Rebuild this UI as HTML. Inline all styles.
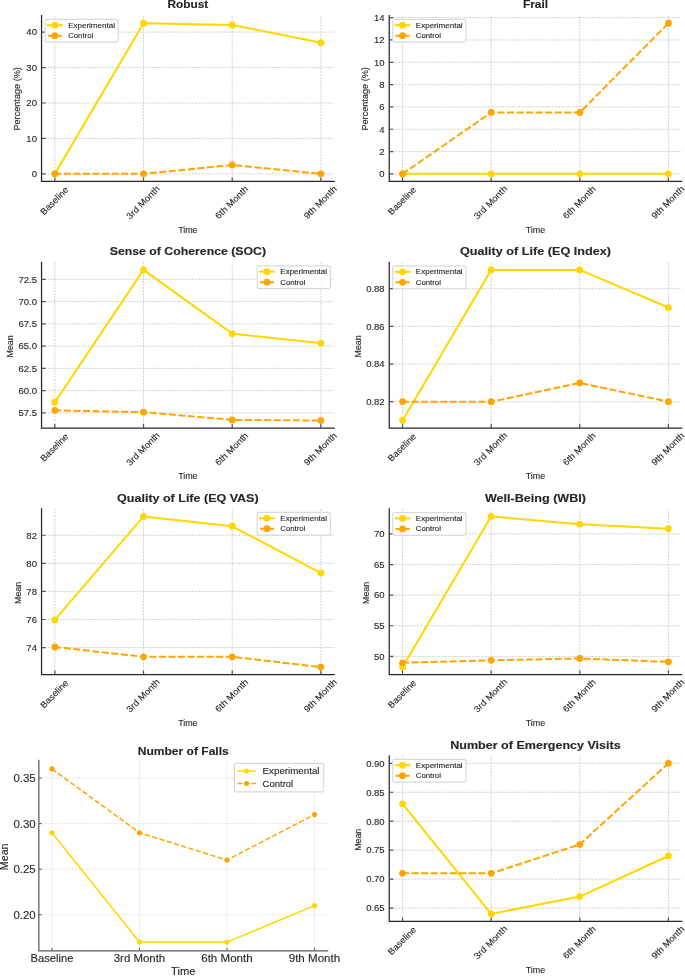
<!DOCTYPE html>
<html><head><meta charset="utf-8"><style>
html,body{margin:0;padding:0;background:#fff;}
body{width:685px;height:976px;overflow:hidden;}
svg{display:block;will-change:transform;}
text{font-family:"Liberation Sans", sans-serif;stroke:#262626;stroke-width:0.12px;}
</style></head><body>
<svg width="685" height="976" viewBox="0 0 685 976" font-family='"Liberation Sans", sans-serif' fill="#262626">
<rect width="685" height="976" fill="#ffffff"/>
<path d="M54.85 15.7V181.4M143.53 15.7V181.4M232.22 15.7V181.4M320.9 15.7V181.4M41.55 173.87H334.2M41.55 138.42H334.2M41.55 102.98H334.2M41.55 67.54H334.2M41.55 32.09H334.2" stroke="#c6c6c6" stroke-width="0.8" stroke-dasharray="2 1.07" fill="none"/>
<polyline points="54.85,173.87 143.53,23.23 232.22,25 320.9,42.73" stroke="#FFD700" stroke-width="2" fill="none" stroke-linejoin="round"/>
<circle cx="54.85" cy="173.87" r="3.4" fill="#FFD700"/>
<circle cx="143.53" cy="23.23" r="3.4" fill="#FFD700"/>
<circle cx="232.22" cy="25" r="3.4" fill="#FFD700"/>
<circle cx="320.9" cy="42.73" r="3.4" fill="#FFD700"/>
<polyline points="54.85,173.87 143.53,173.87 232.22,165.01 320.9,173.87" stroke="#FFA500" stroke-width="2" fill="none" stroke-dasharray="7 2.55" stroke-dashoffset="0.5" stroke-linejoin="round"/>
<circle cx="54.85" cy="173.87" r="3.4" fill="#FFA500"/>
<circle cx="143.53" cy="173.87" r="3.4" fill="#FFA500"/>
<circle cx="232.22" cy="165.01" r="3.4" fill="#FFA500"/>
<circle cx="320.9" cy="173.87" r="3.4" fill="#FFA500"/>
<path d="M41.55 15.7V181.4H334.2" stroke="#262626" stroke-width="1.25" stroke-linecap="square" fill="none"/>
<path d="M54.85 181.4v-4M143.53 181.4v-4M232.22 181.4v-4M320.9 181.4v-4M41.55 173.87h4M41.55 138.42h4M41.55 102.98h4M41.55 67.54h4M41.55 32.09h4" stroke="#505050" stroke-width="1.2" fill="none"/>
<text x="36.95" y="177.17" font-size="9.5" text-anchor="end">0</text>
<text x="36.95" y="141.72" font-size="9.5" text-anchor="end">10</text>
<text x="36.95" y="106.28" font-size="9.5" text-anchor="end">20</text>
<text x="36.95" y="70.84" font-size="9.5" text-anchor="end">30</text>
<text x="36.95" y="35.39" font-size="9.5" text-anchor="end">40</text>
<text x="0" y="3.1" font-size="8.9" text-anchor="middle" textLength="35.5" lengthAdjust="spacingAndGlyphs" transform="translate(54.25 200.7) rotate(-45)">Baseline</text>
<text x="0" y="3.1" font-size="8.9" text-anchor="middle" textLength="43" lengthAdjust="spacingAndGlyphs" transform="translate(142.93 202.3) rotate(-45)">3rd Month</text>
<text x="0" y="3.1" font-size="8.9" text-anchor="middle" textLength="42.3" lengthAdjust="spacingAndGlyphs" transform="translate(231.62 202.3) rotate(-45)">6th Month</text>
<text x="0" y="3.1" font-size="8.9" text-anchor="middle" textLength="42.3" lengthAdjust="spacingAndGlyphs" transform="translate(320.3 202.3) rotate(-45)">9th Month</text>
<text x="187.88" y="232.6" font-size="8.9" text-anchor="middle" textLength="19.4" lengthAdjust="spacingAndGlyphs">Time</text>
<text x="0" y="0" font-size="8.9" text-anchor="middle" textLength="63.4" lengthAdjust="spacingAndGlyphs" transform="translate(20 98.85) rotate(-90)">Percentage (%)</text>
<text x="187.88" y="8.3" font-size="10.6" text-anchor="middle" font-weight="bold" textLength="40.9" lengthAdjust="spacingAndGlyphs">Robust</text>
<rect x="45.05" y="19.4" width="73.2" height="22.7" rx="1.8" fill="#ffffff" fill-opacity="0.8" stroke="#dadada" stroke-width="1.2"/>
<path d="M47.85 25.2h14" stroke="#FFD700" stroke-width="2" stroke-linecap="square" fill="none"/>
<circle cx="54.85" cy="25.2" r="3.4" fill="#FFD700"/>
<text x="68.15" y="27.6" font-size="7.7" textLength="46.8" lengthAdjust="spacingAndGlyphs">Experimental</text>
<path d="M47.85 35.7h14" stroke="#FFA500" stroke-width="2" stroke-dasharray="7.2 2.5" fill="none"/>
<circle cx="54.85" cy="35.7" r="3.4" fill="#FFA500"/>
<text x="68.15" y="38.1" font-size="7.7" textLength="25.1" lengthAdjust="spacingAndGlyphs">Control</text>
<path d="M402.54 15.7V181.4M491.16 15.7V181.4M579.79 15.7V181.4M668.41 15.7V181.4M389.25 173.87H681.7M389.25 151.55H681.7M389.25 129.24H681.7M389.25 106.92H681.7M389.25 84.6H681.7M389.25 62.29H681.7M389.25 39.97H681.7M389.25 17.65H681.7" stroke="#c6c6c6" stroke-width="0.8" stroke-dasharray="2 1.07" fill="none"/>
<polyline points="402.54,173.87 491.16,173.87 579.79,173.87 668.41,173.87" stroke="#FFD700" stroke-width="2" fill="none" stroke-linejoin="round"/>
<circle cx="402.54" cy="173.87" r="3.4" fill="#FFD700"/>
<circle cx="491.16" cy="173.87" r="3.4" fill="#FFD700"/>
<circle cx="579.79" cy="173.87" r="3.4" fill="#FFD700"/>
<circle cx="668.41" cy="173.87" r="3.4" fill="#FFD700"/>
<polyline points="402.54,173.87 491.16,112.5 579.79,112.5 668.41,23.23" stroke="#FFA500" stroke-width="2" fill="none" stroke-dasharray="7 2.55" stroke-dashoffset="0.5" stroke-linejoin="round"/>
<circle cx="402.54" cy="173.87" r="3.4" fill="#FFA500"/>
<circle cx="491.16" cy="112.5" r="3.4" fill="#FFA500"/>
<circle cx="579.79" cy="112.5" r="3.4" fill="#FFA500"/>
<circle cx="668.41" cy="23.23" r="3.4" fill="#FFA500"/>
<path d="M389.25 15.7V181.4H681.7" stroke="#262626" stroke-width="1.25" stroke-linecap="square" fill="none"/>
<path d="M402.54 181.4v-4M491.16 181.4v-4M579.79 181.4v-4M668.41 181.4v-4M389.25 173.87h4M389.25 151.55h4M389.25 129.24h4M389.25 106.92h4M389.25 84.6h4M389.25 62.29h4M389.25 39.97h4M389.25 17.65h4" stroke="#505050" stroke-width="1.2" fill="none"/>
<text x="384.65" y="177.17" font-size="9.5" text-anchor="end">0</text>
<text x="384.65" y="154.85" font-size="9.5" text-anchor="end">2</text>
<text x="384.65" y="132.54" font-size="9.5" text-anchor="end">4</text>
<text x="384.65" y="110.22" font-size="9.5" text-anchor="end">6</text>
<text x="384.65" y="87.9" font-size="9.5" text-anchor="end">8</text>
<text x="384.65" y="65.59" font-size="9.5" text-anchor="end">10</text>
<text x="384.65" y="43.27" font-size="9.5" text-anchor="end">12</text>
<text x="384.65" y="20.95" font-size="9.5" text-anchor="end">14</text>
<text x="0" y="3.1" font-size="8.9" text-anchor="middle" textLength="35.5" lengthAdjust="spacingAndGlyphs" transform="translate(401.94 200.7) rotate(-45)">Baseline</text>
<text x="0" y="3.1" font-size="8.9" text-anchor="middle" textLength="43" lengthAdjust="spacingAndGlyphs" transform="translate(490.56 202.3) rotate(-45)">3rd Month</text>
<text x="0" y="3.1" font-size="8.9" text-anchor="middle" textLength="42.3" lengthAdjust="spacingAndGlyphs" transform="translate(579.19 202.3) rotate(-45)">6th Month</text>
<text x="0" y="3.1" font-size="8.9" text-anchor="middle" textLength="42.3" lengthAdjust="spacingAndGlyphs" transform="translate(667.81 202.3) rotate(-45)">9th Month</text>
<text x="535.48" y="232.6" font-size="8.9" text-anchor="middle" textLength="19.4" lengthAdjust="spacingAndGlyphs">Time</text>
<text x="0" y="0" font-size="8.9" text-anchor="middle" textLength="63.4" lengthAdjust="spacingAndGlyphs" transform="translate(367.5 98.85) rotate(-90)">Percentage (%)</text>
<text x="535.48" y="8.4" font-size="10.6" text-anchor="middle" font-weight="bold" textLength="25.1" lengthAdjust="spacingAndGlyphs">Frail</text>
<rect x="392.75" y="19.4" width="73.2" height="22.7" rx="1.8" fill="#ffffff" fill-opacity="0.8" stroke="#dadada" stroke-width="1.2"/>
<path d="M395.55 25.2h14" stroke="#FFD700" stroke-width="2" stroke-linecap="square" fill="none"/>
<circle cx="402.55" cy="25.2" r="3.4" fill="#FFD700"/>
<text x="415.85" y="27.6" font-size="7.7" textLength="46.8" lengthAdjust="spacingAndGlyphs">Experimental</text>
<path d="M395.55 35.7h14" stroke="#FFA500" stroke-width="2" stroke-dasharray="7.2 2.5" fill="none"/>
<circle cx="402.55" cy="35.7" r="3.4" fill="#FFA500"/>
<text x="415.85" y="38.1" font-size="7.7" textLength="25.1" lengthAdjust="spacingAndGlyphs">Control</text>
<path d="M54.85 262.35V428.05M143.53 262.35V428.05M232.22 262.35V428.05M320.9 262.35V428.05M41.55 412.86H334.2M41.55 390.6H334.2M41.55 368.35H334.2M41.55 346.09H334.2M41.55 323.83H334.2M41.55 301.58H334.2M41.55 279.32H334.2" stroke="#c6c6c6" stroke-width="0.8" stroke-dasharray="2 1.07" fill="none"/>
<polyline points="54.85,402.27 143.53,269.88 232.22,333.63 320.9,343.15" stroke="#FFD700" stroke-width="2" fill="none" stroke-linejoin="round"/>
<circle cx="54.85" cy="402.27" r="3.4" fill="#FFD700"/>
<circle cx="143.53" cy="269.88" r="3.4" fill="#FFD700"/>
<circle cx="232.22" cy="333.63" r="3.4" fill="#FFD700"/>
<circle cx="320.9" cy="343.15" r="3.4" fill="#FFD700"/>
<polyline points="54.85,410.37 143.53,412.15 232.22,419.89 320.9,420.52" stroke="#FFA500" stroke-width="2" fill="none" stroke-dasharray="7 2.55" stroke-dashoffset="0.5" stroke-linejoin="round"/>
<circle cx="54.85" cy="410.37" r="3.4" fill="#FFA500"/>
<circle cx="143.53" cy="412.15" r="3.4" fill="#FFA500"/>
<circle cx="232.22" cy="419.89" r="3.4" fill="#FFA500"/>
<circle cx="320.9" cy="420.52" r="3.4" fill="#FFA500"/>
<path d="M41.55 262.35V428.05H334.2" stroke="#262626" stroke-width="1.25" stroke-linecap="square" fill="none"/>
<path d="M54.85 428.05v-4M143.53 428.05v-4M232.22 428.05v-4M320.9 428.05v-4M41.55 412.86h4M41.55 390.6h4M41.55 368.35h4M41.55 346.09h4M41.55 323.83h4M41.55 301.58h4M41.55 279.32h4" stroke="#505050" stroke-width="1.2" fill="none"/>
<text x="36.95" y="416.16" font-size="9.5" text-anchor="end">57.5</text>
<text x="36.95" y="393.9" font-size="9.5" text-anchor="end">60.0</text>
<text x="36.95" y="371.65" font-size="9.5" text-anchor="end">62.5</text>
<text x="36.95" y="349.39" font-size="9.5" text-anchor="end">65.0</text>
<text x="36.95" y="327.13" font-size="9.5" text-anchor="end">67.5</text>
<text x="36.95" y="304.88" font-size="9.5" text-anchor="end">70.0</text>
<text x="36.95" y="282.62" font-size="9.5" text-anchor="end">72.5</text>
<text x="0" y="3.1" font-size="8.9" text-anchor="middle" textLength="35.5" lengthAdjust="spacingAndGlyphs" transform="translate(54.25 447.35) rotate(-45)">Baseline</text>
<text x="0" y="3.1" font-size="8.9" text-anchor="middle" textLength="43" lengthAdjust="spacingAndGlyphs" transform="translate(142.93 448.95) rotate(-45)">3rd Month</text>
<text x="0" y="3.1" font-size="8.9" text-anchor="middle" textLength="42.3" lengthAdjust="spacingAndGlyphs" transform="translate(231.62 448.95) rotate(-45)">6th Month</text>
<text x="0" y="3.1" font-size="8.9" text-anchor="middle" textLength="42.3" lengthAdjust="spacingAndGlyphs" transform="translate(320.3 448.95) rotate(-45)">9th Month</text>
<text x="187.88" y="479.25" font-size="8.9" text-anchor="middle" textLength="19.4" lengthAdjust="spacingAndGlyphs">Time</text>
<text x="0" y="0" font-size="8.9" text-anchor="middle" textLength="22" lengthAdjust="spacingAndGlyphs" transform="translate(13.2 346.4) rotate(-90)">Mean</text>
<text x="187.88" y="254.85" font-size="10.6" text-anchor="middle" font-weight="bold" textLength="156.3" lengthAdjust="spacingAndGlyphs">Sense of Coherence (SOC)</text>
<rect x="257.2" y="265.85" width="73.2" height="22.7" rx="1.8" fill="#ffffff" fill-opacity="0.8" stroke="#dadada" stroke-width="1.2"/>
<path d="M260 271.65h14" stroke="#FFD700" stroke-width="2" stroke-linecap="square" fill="none"/>
<circle cx="267" cy="271.65" r="3.4" fill="#FFD700"/>
<text x="280.3" y="274.05" font-size="7.7" textLength="46.8" lengthAdjust="spacingAndGlyphs">Experimental</text>
<path d="M260 282.15h14" stroke="#FFA500" stroke-width="2" stroke-dasharray="7.2 2.5" fill="none"/>
<circle cx="267" cy="282.15" r="3.4" fill="#FFA500"/>
<text x="280.3" y="284.55" font-size="7.7" textLength="25.1" lengthAdjust="spacingAndGlyphs">Control</text>
<path d="M402.54 262.35V428.05M491.16 262.35V428.05M579.79 262.35V428.05M668.41 262.35V428.05M389.25 401.69H681.7M389.25 364.03H681.7M389.25 326.37H681.7M389.25 288.71H681.7" stroke="#c6c6c6" stroke-width="0.8" stroke-dasharray="2 1.07" fill="none"/>
<polyline points="402.54,420.52 491.16,269.88 579.79,269.88 668.41,307.54" stroke="#FFD700" stroke-width="2" fill="none" stroke-linejoin="round"/>
<circle cx="402.54" cy="420.52" r="3.4" fill="#FFD700"/>
<circle cx="491.16" cy="269.88" r="3.4" fill="#FFD700"/>
<circle cx="579.79" cy="269.88" r="3.4" fill="#FFD700"/>
<circle cx="668.41" cy="307.54" r="3.4" fill="#FFD700"/>
<polyline points="402.54,401.69 491.16,401.69 579.79,382.86 668.41,401.69" stroke="#FFA500" stroke-width="2" fill="none" stroke-dasharray="7 2.55" stroke-dashoffset="0.5" stroke-linejoin="round"/>
<circle cx="402.54" cy="401.69" r="3.4" fill="#FFA500"/>
<circle cx="491.16" cy="401.69" r="3.4" fill="#FFA500"/>
<circle cx="579.79" cy="382.86" r="3.4" fill="#FFA500"/>
<circle cx="668.41" cy="401.69" r="3.4" fill="#FFA500"/>
<path d="M389.25 262.35V428.05H681.7" stroke="#262626" stroke-width="1.25" stroke-linecap="square" fill="none"/>
<path d="M402.54 428.05v-4M491.16 428.05v-4M579.79 428.05v-4M668.41 428.05v-4M389.25 401.69h4M389.25 364.03h4M389.25 326.37h4M389.25 288.71h4" stroke="#505050" stroke-width="1.2" fill="none"/>
<text x="384.65" y="404.99" font-size="9.5" text-anchor="end">0.82</text>
<text x="384.65" y="367.33" font-size="9.5" text-anchor="end">0.84</text>
<text x="384.65" y="329.67" font-size="9.5" text-anchor="end">0.86</text>
<text x="384.65" y="292.01" font-size="9.5" text-anchor="end">0.88</text>
<text x="0" y="3.1" font-size="8.9" text-anchor="middle" textLength="35.5" lengthAdjust="spacingAndGlyphs" transform="translate(401.94 447.35) rotate(-45)">Baseline</text>
<text x="0" y="3.1" font-size="8.9" text-anchor="middle" textLength="43" lengthAdjust="spacingAndGlyphs" transform="translate(490.56 448.95) rotate(-45)">3rd Month</text>
<text x="0" y="3.1" font-size="8.9" text-anchor="middle" textLength="42.3" lengthAdjust="spacingAndGlyphs" transform="translate(579.19 448.95) rotate(-45)">6th Month</text>
<text x="0" y="3.1" font-size="8.9" text-anchor="middle" textLength="42.3" lengthAdjust="spacingAndGlyphs" transform="translate(667.81 448.95) rotate(-45)">9th Month</text>
<text x="535.48" y="479.25" font-size="8.9" text-anchor="middle" textLength="19.4" lengthAdjust="spacingAndGlyphs">Time</text>
<text x="0" y="0" font-size="8.9" text-anchor="middle" textLength="22" lengthAdjust="spacingAndGlyphs" transform="translate(360.8 346.4) rotate(-90)">Mean</text>
<text x="535.48" y="254.9" font-size="10.6" text-anchor="middle" font-weight="bold" textLength="150.9" lengthAdjust="spacingAndGlyphs">Quality of Life (EQ Index)</text>
<rect x="392.75" y="266.05" width="73.2" height="22.7" rx="1.8" fill="#ffffff" fill-opacity="0.8" stroke="#dadada" stroke-width="1.2"/>
<path d="M395.55 271.85h14" stroke="#FFD700" stroke-width="2" stroke-linecap="square" fill="none"/>
<circle cx="402.55" cy="271.85" r="3.4" fill="#FFD700"/>
<text x="415.85" y="274.25" font-size="7.7" textLength="46.8" lengthAdjust="spacingAndGlyphs">Experimental</text>
<path d="M395.55 282.35h14" stroke="#FFA500" stroke-width="2" stroke-dasharray="7.2 2.5" fill="none"/>
<circle cx="402.55" cy="282.35" r="3.4" fill="#FFA500"/>
<text x="415.85" y="284.75" font-size="7.7" textLength="25.1" lengthAdjust="spacingAndGlyphs">Control</text>
<path d="M54.85 508.9V674.6M143.53 508.9V674.6M232.22 508.9V674.6M320.9 508.9V674.6M41.55 647.55H334.2M41.55 619.48H334.2M41.55 591.4H334.2M41.55 563.32H334.2M41.55 535.24H334.2" stroke="#c6c6c6" stroke-width="0.8" stroke-dasharray="2 1.07" fill="none"/>
<polyline points="54.85,619.9 143.53,516.43 232.22,526.26 320.9,573.01" stroke="#FFD700" stroke-width="2" fill="none" stroke-linejoin="round"/>
<circle cx="54.85" cy="619.9" r="3.4" fill="#FFD700"/>
<circle cx="143.53" cy="516.43" r="3.4" fill="#FFD700"/>
<circle cx="232.22" cy="526.26" r="3.4" fill="#FFD700"/>
<circle cx="320.9" cy="573.01" r="3.4" fill="#FFD700"/>
<polyline points="54.85,646.99 143.53,656.82 232.22,656.82 320.9,667.07" stroke="#FFA500" stroke-width="2" fill="none" stroke-dasharray="7 2.55" stroke-dashoffset="0.5" stroke-linejoin="round"/>
<circle cx="54.85" cy="646.99" r="3.4" fill="#FFA500"/>
<circle cx="143.53" cy="656.82" r="3.4" fill="#FFA500"/>
<circle cx="232.22" cy="656.82" r="3.4" fill="#FFA500"/>
<circle cx="320.9" cy="667.07" r="3.4" fill="#FFA500"/>
<path d="M41.55 508.9V674.6H334.2" stroke="#262626" stroke-width="1.25" stroke-linecap="square" fill="none"/>
<path d="M54.85 674.6v-4M143.53 674.6v-4M232.22 674.6v-4M320.9 674.6v-4M41.55 647.55h4M41.55 619.48h4M41.55 591.4h4M41.55 563.32h4M41.55 535.24h4" stroke="#505050" stroke-width="1.2" fill="none"/>
<text x="36.95" y="650.85" font-size="9.5" text-anchor="end">74</text>
<text x="36.95" y="622.78" font-size="9.5" text-anchor="end">76</text>
<text x="36.95" y="594.7" font-size="9.5" text-anchor="end">78</text>
<text x="36.95" y="566.62" font-size="9.5" text-anchor="end">80</text>
<text x="36.95" y="538.54" font-size="9.5" text-anchor="end">82</text>
<text x="0" y="3.1" font-size="8.9" text-anchor="middle" textLength="35.5" lengthAdjust="spacingAndGlyphs" transform="translate(54.25 693.9) rotate(-45)">Baseline</text>
<text x="0" y="3.1" font-size="8.9" text-anchor="middle" textLength="43" lengthAdjust="spacingAndGlyphs" transform="translate(142.93 695.5) rotate(-45)">3rd Month</text>
<text x="0" y="3.1" font-size="8.9" text-anchor="middle" textLength="42.3" lengthAdjust="spacingAndGlyphs" transform="translate(231.62 695.5) rotate(-45)">6th Month</text>
<text x="0" y="3.1" font-size="8.9" text-anchor="middle" textLength="42.3" lengthAdjust="spacingAndGlyphs" transform="translate(320.3 695.5) rotate(-45)">9th Month</text>
<text x="187.88" y="725.8" font-size="8.9" text-anchor="middle" textLength="19.4" lengthAdjust="spacingAndGlyphs">Time</text>
<text x="0" y="0" font-size="8.9" text-anchor="middle" textLength="22" lengthAdjust="spacingAndGlyphs" transform="translate(20.9 592.95) rotate(-90)">Mean</text>
<text x="187.88" y="502.3" font-size="10.6" text-anchor="middle" font-weight="bold" textLength="141.5" lengthAdjust="spacingAndGlyphs">Quality of Life (EQ VAS)</text>
<rect x="257.2" y="512.4" width="73.2" height="22.7" rx="1.8" fill="#ffffff" fill-opacity="0.8" stroke="#dadada" stroke-width="1.2"/>
<path d="M260 518.2h14" stroke="#FFD700" stroke-width="2" stroke-linecap="square" fill="none"/>
<circle cx="267" cy="518.2" r="3.4" fill="#FFD700"/>
<text x="280.3" y="520.6" font-size="7.7" textLength="46.8" lengthAdjust="spacingAndGlyphs">Experimental</text>
<path d="M260 528.7h14" stroke="#FFA500" stroke-width="2" stroke-dasharray="7.2 2.5" fill="none"/>
<circle cx="267" cy="528.7" r="3.4" fill="#FFA500"/>
<text x="280.3" y="531.1" font-size="7.7" textLength="25.1" lengthAdjust="spacingAndGlyphs">Control</text>
<path d="M402.54 508.9V674.6M491.16 508.9V674.6M579.79 508.9V674.6M668.41 508.9V674.6M389.25 656.36H681.7M389.25 625.75H681.7M389.25 595.15H681.7M389.25 564.54H681.7M389.25 533.94H681.7" stroke="#c6c6c6" stroke-width="0.8" stroke-dasharray="2 1.07" fill="none"/>
<polyline points="402.54,667.07 491.16,516.43 579.79,524.14 668.41,528.73" stroke="#FFD700" stroke-width="2" fill="none" stroke-linejoin="round"/>
<circle cx="402.54" cy="667.07" r="3.4" fill="#FFD700"/>
<circle cx="491.16" cy="516.43" r="3.4" fill="#FFD700"/>
<circle cx="579.79" cy="524.14" r="3.4" fill="#FFD700"/>
<circle cx="668.41" cy="528.73" r="3.4" fill="#FFD700"/>
<polyline points="402.54,662.78 491.16,660.34 579.79,658.5 668.41,661.87" stroke="#FFA500" stroke-width="2" fill="none" stroke-dasharray="7 2.55" stroke-dashoffset="0.5" stroke-linejoin="round"/>
<circle cx="402.54" cy="662.78" r="3.4" fill="#FFA500"/>
<circle cx="491.16" cy="660.34" r="3.4" fill="#FFA500"/>
<circle cx="579.79" cy="658.5" r="3.4" fill="#FFA500"/>
<circle cx="668.41" cy="661.87" r="3.4" fill="#FFA500"/>
<path d="M389.25 508.9V674.6H681.7" stroke="#262626" stroke-width="1.25" stroke-linecap="square" fill="none"/>
<path d="M402.54 674.6v-4M491.16 674.6v-4M579.79 674.6v-4M668.41 674.6v-4M389.25 656.36h4M389.25 625.75h4M389.25 595.15h4M389.25 564.54h4M389.25 533.94h4" stroke="#505050" stroke-width="1.2" fill="none"/>
<text x="384.65" y="659.66" font-size="9.5" text-anchor="end">50</text>
<text x="384.65" y="629.05" font-size="9.5" text-anchor="end">55</text>
<text x="384.65" y="598.45" font-size="9.5" text-anchor="end">60</text>
<text x="384.65" y="567.84" font-size="9.5" text-anchor="end">65</text>
<text x="384.65" y="537.24" font-size="9.5" text-anchor="end">70</text>
<text x="0" y="3.1" font-size="8.9" text-anchor="middle" textLength="35.5" lengthAdjust="spacingAndGlyphs" transform="translate(401.94 693.9) rotate(-45)">Baseline</text>
<text x="0" y="3.1" font-size="8.9" text-anchor="middle" textLength="43" lengthAdjust="spacingAndGlyphs" transform="translate(490.56 695.5) rotate(-45)">3rd Month</text>
<text x="0" y="3.1" font-size="8.9" text-anchor="middle" textLength="42.3" lengthAdjust="spacingAndGlyphs" transform="translate(579.19 695.5) rotate(-45)">6th Month</text>
<text x="0" y="3.1" font-size="8.9" text-anchor="middle" textLength="42.3" lengthAdjust="spacingAndGlyphs" transform="translate(667.81 695.5) rotate(-45)">9th Month</text>
<text x="535.48" y="725.8" font-size="8.9" text-anchor="middle" textLength="19.4" lengthAdjust="spacingAndGlyphs">Time</text>
<text x="0" y="0" font-size="8.9" text-anchor="middle" textLength="22" lengthAdjust="spacingAndGlyphs" transform="translate(368.5 592.95) rotate(-90)">Mean</text>
<text x="535.48" y="502.2" font-size="10.6" text-anchor="middle" font-weight="bold" textLength="101" lengthAdjust="spacingAndGlyphs">Well-Being (WBI)</text>
<rect x="392.75" y="512.6" width="73.2" height="22.7" rx="1.8" fill="#ffffff" fill-opacity="0.8" stroke="#dadada" stroke-width="1.2"/>
<path d="M395.55 518.4h14" stroke="#FFD700" stroke-width="2" stroke-linecap="square" fill="none"/>
<circle cx="402.55" cy="518.4" r="3.4" fill="#FFD700"/>
<text x="415.85" y="520.8" font-size="7.7" textLength="46.8" lengthAdjust="spacingAndGlyphs">Experimental</text>
<path d="M395.55 528.9h14" stroke="#FFA500" stroke-width="2" stroke-dasharray="7.2 2.5" fill="none"/>
<circle cx="402.55" cy="528.9" r="3.4" fill="#FFA500"/>
<text x="415.85" y="531.3" font-size="7.7" textLength="25.1" lengthAdjust="spacingAndGlyphs">Control</text>
<path d="M51.98 760.3V950.75M139.47 760.3V950.75M226.97 760.3V950.75M314.48 760.3V950.75M38.85 914.76H327.6M38.85 869.19H327.6M38.85 823.63H327.6M38.85 778.07H327.6" stroke="#d2d2d2" stroke-width="0.8" stroke-dasharray="1 1.1" fill="none"/>
<polyline points="51.98,832.74 139.47,942.09 226.97,942.09 314.48,905.64" stroke="#FFD700" stroke-width="1.5" fill="none" stroke-linejoin="round"/>
<circle cx="51.98" cy="832.74" r="2.6" fill="#FFD700"/>
<circle cx="139.47" cy="942.09" r="2.6" fill="#FFD700"/>
<circle cx="226.97" cy="942.09" r="2.6" fill="#FFD700"/>
<circle cx="314.48" cy="905.64" r="2.6" fill="#FFD700"/>
<polyline points="51.98,768.96 139.47,832.74 226.97,860.08 314.48,814.52" stroke="#FFA500" stroke-width="1.5" fill="none" stroke-dasharray="5.3 2.3" stroke-linejoin="round"/>
<circle cx="51.98" cy="768.96" r="2.6" fill="#FFA500"/>
<circle cx="139.47" cy="832.74" r="2.6" fill="#FFA500"/>
<circle cx="226.97" cy="860.08" r="2.6" fill="#FFA500"/>
<circle cx="314.48" cy="814.52" r="2.6" fill="#FFA500"/>
<path d="M38.85 760.3V950.75H327.6" stroke="#5a5a5a" stroke-width="1.25" stroke-linecap="square" fill="none"/>
<path d="M51.98 950.75v-3M139.47 950.75v-3M226.97 950.75v-3M314.48 950.75v-3M38.85 914.76h3M38.85 869.19h3M38.85 823.63h3M38.85 778.07h3" stroke="#5e5e5e" stroke-width="1" fill="none"/>
<text x="35.75" y="918.66" font-size="11.3" text-anchor="end" textLength="22.3" lengthAdjust="spacingAndGlyphs">0.20</text>
<text x="35.75" y="873.09" font-size="11.3" text-anchor="end" textLength="22.3" lengthAdjust="spacingAndGlyphs">0.25</text>
<text x="35.75" y="827.53" font-size="11.3" text-anchor="end" textLength="22.3" lengthAdjust="spacingAndGlyphs">0.30</text>
<text x="35.75" y="781.97" font-size="11.3" text-anchor="end" textLength="22.3" lengthAdjust="spacingAndGlyphs">0.35</text>
<text x="51.98" y="961.9" font-size="10.6" text-anchor="middle" textLength="42.7" lengthAdjust="spacingAndGlyphs">Baseline</text>
<text x="139.47" y="961.9" font-size="10.6" text-anchor="middle" textLength="51.5" lengthAdjust="spacingAndGlyphs">3rd Month</text>
<text x="226.97" y="961.9" font-size="10.6" text-anchor="middle" textLength="51.5" lengthAdjust="spacingAndGlyphs">6th Month</text>
<text x="314.48" y="961.9" font-size="10.6" text-anchor="middle" textLength="51.5" lengthAdjust="spacingAndGlyphs">9th Month</text>
<text x="183.23" y="975.2" font-size="10.6" text-anchor="middle" textLength="24.3" lengthAdjust="spacingAndGlyphs">Time</text>
<text x="0" y="0" font-size="10.6" text-anchor="middle" textLength="26.7" lengthAdjust="spacingAndGlyphs" transform="translate(8.3 856.82) rotate(-90)">Mean</text>
<text x="183.23" y="754.6" font-size="11.2" text-anchor="middle" font-weight="bold" textLength="91.1" lengthAdjust="spacingAndGlyphs">Number of Falls</text>
<rect x="234.4" y="763.4" width="89.3" height="28.5" rx="2" fill="#ffffff" fill-opacity="0.8" stroke="#d8d8d8" stroke-width="1.1"/>
<path d="M237.5 771h18.4" stroke="#FFD700" stroke-width="1.5" fill="none"/>
<circle cx="246.6" cy="771" r="2.5" fill="#FFD700"/>
<text x="262.6" y="773.9" font-size="9.6" textLength="56.9" lengthAdjust="spacingAndGlyphs">Experimental</text>
<path d="M237.8 783.6h18.2" stroke="#FFA500" stroke-width="1.5" stroke-dasharray="4.7 2.2" fill="none"/>
<circle cx="246.6" cy="783.6" r="2.5" fill="#FFA500"/>
<text x="262.6" y="786.5" font-size="9.6" textLength="30.6" lengthAdjust="spacingAndGlyphs">Control</text>
<path d="M402.54 755.75V921.45M491.16 755.75V921.45M579.79 755.75V921.45M668.41 755.75V921.45M389.25 908.12H681.7M389.25 879.16H681.7M389.25 850.19H681.7M389.25 821.22H681.7M389.25 792.25H681.7M389.25 763.28H681.7" stroke="#c6c6c6" stroke-width="0.8" stroke-dasharray="2 1.07" fill="none"/>
<polyline points="402.54,803.84 491.16,913.92 579.79,896.54 668.41,855.98" stroke="#FFD700" stroke-width="2" fill="none" stroke-linejoin="round"/>
<circle cx="402.54" cy="803.84" r="3.4" fill="#FFD700"/>
<circle cx="491.16" cy="913.92" r="3.4" fill="#FFD700"/>
<circle cx="579.79" cy="896.54" r="3.4" fill="#FFD700"/>
<circle cx="668.41" cy="855.98" r="3.4" fill="#FFD700"/>
<polyline points="402.54,873.36 491.16,873.36 579.79,844.39 668.41,763.28" stroke="#FFA500" stroke-width="2" fill="none" stroke-dasharray="7 2.55" stroke-dashoffset="0.5" stroke-linejoin="round"/>
<circle cx="402.54" cy="873.36" r="3.4" fill="#FFA500"/>
<circle cx="491.16" cy="873.36" r="3.4" fill="#FFA500"/>
<circle cx="579.79" cy="844.39" r="3.4" fill="#FFA500"/>
<circle cx="668.41" cy="763.28" r="3.4" fill="#FFA500"/>
<path d="M389.25 755.75V921.45H681.7" stroke="#262626" stroke-width="1.25" stroke-linecap="square" fill="none"/>
<path d="M402.54 921.45v-4M491.16 921.45v-4M579.79 921.45v-4M668.41 921.45v-4M389.25 908.12h4M389.25 879.16h4M389.25 850.19h4M389.25 821.22h4M389.25 792.25h4M389.25 763.28h4" stroke="#505050" stroke-width="1.2" fill="none"/>
<text x="384.65" y="911.42" font-size="9.5" text-anchor="end">0.65</text>
<text x="384.65" y="882.46" font-size="9.5" text-anchor="end">0.70</text>
<text x="384.65" y="853.49" font-size="9.5" text-anchor="end">0.75</text>
<text x="384.65" y="824.52" font-size="9.5" text-anchor="end">0.80</text>
<text x="384.65" y="795.55" font-size="9.5" text-anchor="end">0.85</text>
<text x="384.65" y="766.58" font-size="9.5" text-anchor="end">0.90</text>
<text x="0" y="3.1" font-size="8.9" text-anchor="middle" textLength="35.5" lengthAdjust="spacingAndGlyphs" transform="translate(401.94 940.75) rotate(-45)">Baseline</text>
<text x="0" y="3.1" font-size="8.9" text-anchor="middle" textLength="43" lengthAdjust="spacingAndGlyphs" transform="translate(490.56 942.35) rotate(-45)">3rd Month</text>
<text x="0" y="3.1" font-size="8.9" text-anchor="middle" textLength="42.3" lengthAdjust="spacingAndGlyphs" transform="translate(579.19 942.35) rotate(-45)">6th Month</text>
<text x="0" y="3.1" font-size="8.9" text-anchor="middle" textLength="42.3" lengthAdjust="spacingAndGlyphs" transform="translate(667.81 942.35) rotate(-45)">9th Month</text>
<text x="535.48" y="972.65" font-size="8.9" text-anchor="middle" textLength="19.4" lengthAdjust="spacingAndGlyphs">Time</text>
<text x="0" y="0" font-size="8.9" text-anchor="middle" textLength="22" lengthAdjust="spacingAndGlyphs" transform="translate(360.7 839.8) rotate(-90)">Mean</text>
<text x="535.48" y="749.3" font-size="10.6" text-anchor="middle" font-weight="bold" textLength="170.4" lengthAdjust="spacingAndGlyphs">Number of Emergency Visits</text>
<rect x="392.75" y="759.45" width="73.2" height="22.7" rx="1.8" fill="#ffffff" fill-opacity="0.8" stroke="#dadada" stroke-width="1.2"/>
<path d="M395.55 765.25h14" stroke="#FFD700" stroke-width="2" stroke-linecap="square" fill="none"/>
<circle cx="402.55" cy="765.25" r="3.4" fill="#FFD700"/>
<text x="415.85" y="767.65" font-size="7.7" textLength="46.8" lengthAdjust="spacingAndGlyphs">Experimental</text>
<path d="M395.55 775.75h14" stroke="#FFA500" stroke-width="2" stroke-dasharray="7.2 2.5" fill="none"/>
<circle cx="402.55" cy="775.75" r="3.4" fill="#FFA500"/>
<text x="415.85" y="778.15" font-size="7.7" textLength="25.1" lengthAdjust="spacingAndGlyphs">Control</text>
</svg>
</body></html>
